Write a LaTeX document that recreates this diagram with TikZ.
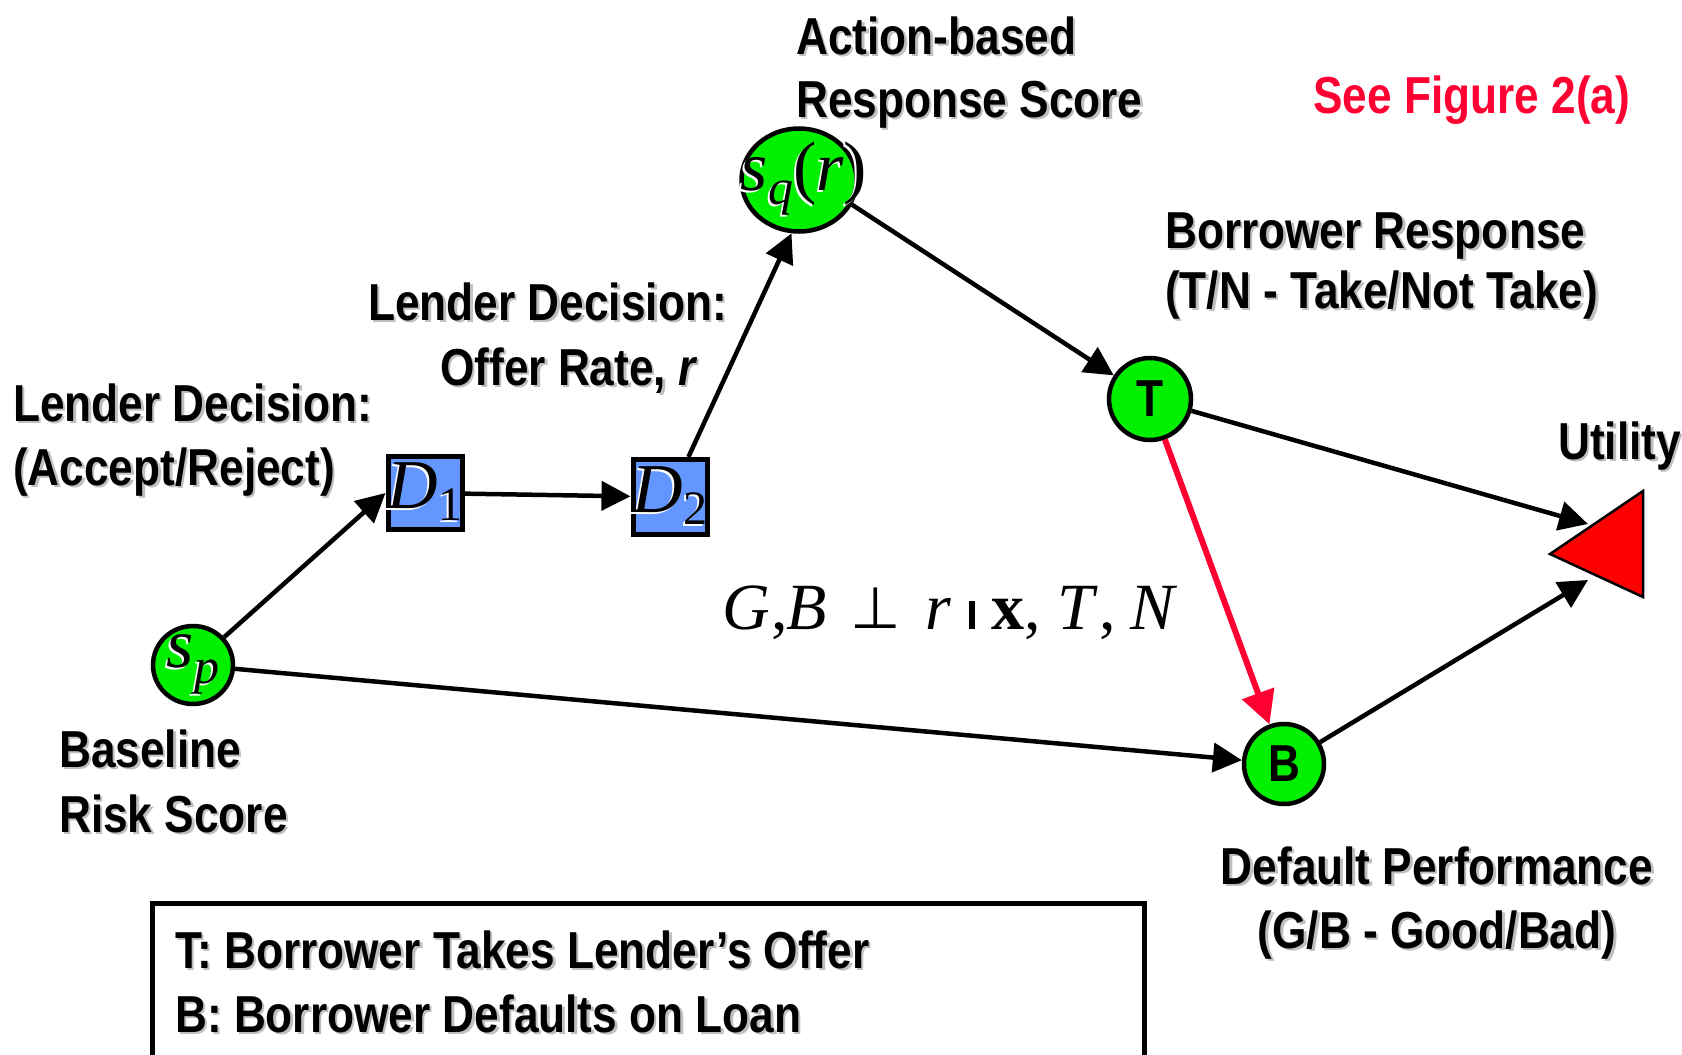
\documentclass[tikz,border=0pt]{standalone}
\usepackage{fontspec}
\setmainfont{Liberation Sans}[FakeStretch=0.85]
\newfontfamily\serif{Liberation Serif}
\newfontfamily\djs{DejaVu Sans}
\usetikzlibrary{arrows.meta,shapes.geometric}
\definecolor{ngreen}{RGB}{0,240,0}
\definecolor{dblue}{RGB}{100,150,255}
\definecolor{ared}{RGB}{255,0,51}
\newcommand\shd[1]{\leavevmode\rlap{\kern2.5pt\raisebox{-2.5pt}{\textcolor{black!25}{#1}}}#1}
\newcommand\wsh[1]{\leavevmode\rlap{\kern-2pt\raisebox{-2pt}{\textcolor{white}{#1}}}#1}
\newcommand\lab{\fontsize{52}{60}\selectfont\bfseries}
\newcommand\mth{\fontsize{70}{76}\selectfont\serif}
\begin{document}
\begin{tikzpicture}[x=1pt,y=-1pt,
  txt/.style={inner sep=0pt, font=\lab, anchor=base west},
  ctxt/.style={inner sep=0pt, font=\lab, anchor=base},
  chance/.style={ellipse, draw=black, line width=4.5pt, fill=ngreen, inner sep=0pt},
  dec/.style={rectangle, draw=black, line width=5pt, fill=dblue, inner sep=0pt},
  arr/.style={line width=4.5pt, -{Triangle[length=29pt,width=29pt]}},
  redarr/.style={draw=ared, line width=6pt, -{Triangle[length=33pt,width=33pt]}}
]
\useasboundingbox (0,0) rectangle (1682,1055);
\fill[white] (0,0) rectangle (1682,1055);

% nodes
\node[chance, minimum width=115pt, minimum height=103pt,
  label={[inner sep=0pt, xshift=5pt]center:{\mth\itshape\wsh{s}\raisebox{-14pt}{\fontsize{50}{54}\selectfont\wsh{q}}\upshape\wsh{(}\itshape\wsh{r}\upshape\wsh{)}}}] (sq) at (799,180) {};
\node[chance, minimum width=82pt, minimum height=82pt,
  label={[inner sep=0pt]center:{\lab T}}] (T) at (1150,399) {};
\node[chance, minimum width=80pt, minimum height=80pt,
  label={[inner sep=0pt]center:{\lab B}}] (B) at (1284,764) {};
\node[chance, minimum width=80pt, minimum height=78pt,
  label={[inner sep=0pt]center:{\mth\itshape\wsh{s}\raisebox{-16pt}{\fontsize{50}{54}\selectfont\wsh{p}}}}] (sp) at (193,665) {};
\node[dec, minimum width=74pt, minimum height=73pt,
  label={[inner sep=0pt]center:{\mth\itshape\wsh{D}\upshape\raisebox{-12pt}{\fontsize{48}{54}\selectfont\wsh{1}}}}] (D1) at (425,493) {};
\node[dec, minimum width=74pt, minimum height=75pt,
  label={[inner sep=0pt]center:{\mth\itshape\wsh{D}\upshape\raisebox{-12pt}{\fontsize{48}{54}\selectfont\wsh{2}}}}] (D2) at (670,497) {};

% utility triangle
\draw[fill=red, line width=2.5pt, line join=miter] (1550,554) -- (1643,491) -- (1643,597) -- cycle;
\coordinate (u1) at (1588,524);
\coordinate (u2) at (1588,580);

% connectors
\draw[arr] (sp) -- (D1.west);
\draw[arr] (D1) -- (D2);
\draw[arr] (D2) -- (sq.262);
\draw[arr] (sq.-25) -- (T);
\draw[arr] (T) -- (u1);
\draw[arr] (B) -- (u2);
\draw[arr] (sp) -- (B);
\draw[redarr] (T) -- (B);

% labels
\node[txt] (l1) at (796,54) {\shd{Action-based}};
\node[txt] (l2) at (796,117) {\shd{Response Score}};
\node[txt, text=ared] (l3) at (1313,113) {See Figure 2(a)};
\node[txt] (l4) at (1165,248) {\shd{Borrower Response}};
\node[txt] (l5) at (1165,308) {\shd{(T/N - Take/Not Take)}};
\node[txt] (l6) at (368,320) {\shd{Lender Decision:}};
\node[txt] (l7) at (440,385) {\shd{Offer Rate, \textit{r}}};
\node[txt] (l8) at (13,421) {\shd{Lender Decision:}};
\node[txt] (l9) at (13,485) {\shd{(Accept/Reject)}};
\node[txt] (l10) at (1558,459) {\shd{Utility}};
\node[txt] (l11) at (59,767) {\shd{Baseline}};
\node[txt] (l12) at (59,832) {\shd{Risk Score}};
\node[ctxt] (l13) at (1437,884) {\shd{Default Performance}};
\node[ctxt] (l14) at (1437,948) {\shd{(G/B - Good/Bad)}};

\node[inner sep=0pt, anchor=base west, font=\fontsize{66}{72}\selectfont\serif] (f) at (722,629)
  {\textit{G}\kern2pt,\kern-2pt\textit{B}\hspace{24pt}{\fontsize{58}{64}\djs\raisebox{1pt}{⊥}}\hspace{24pt}\textit{r}\hspace{18pt}\rule{6pt}{28pt}\hspace{16pt}{\bfseries x}, \textit{T}\hspace{2pt},\hspace{14pt}\textit{N}};

% legend
\draw[line width=5pt] (152,1060) |- (1144,903) -- (1144,1060);
\node[txt] (k1) at (175,968) {\shd{T: Borrower Takes Lender’s Offer}};
\node[txt] (k2) at (175,1032) {\shd{B: Borrower Defaults on Loan}};
\end{tikzpicture}
\end{document}
